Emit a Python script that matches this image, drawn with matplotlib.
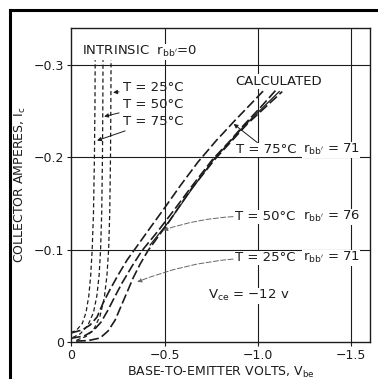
import matplotlib.pyplot as plt
from matplotlib.lines import Line2D

plt.rcParams['font.family'] = ['DejaVu Sans']
plt.rcParams['lines.scale_dashes'] = False
ink = '#1c1c1c'

# intrinsic curves, r_bb' = 0  (volts, amperes)
intr_v_75 = [0.0, -0.03, -0.06, -0.08, -0.095, -0.105, -0.113, -0.12, -0.125, -0.128, -0.129]
intr_i_75 = [-0.010, -0.013, -0.020, -0.032, -0.050, -0.072, -0.10, -0.14, -0.20, -0.26, -0.305]
intr_v_50 = [-0.01, -0.05, -0.09, -0.12, -0.138, -0.150, -0.158, -0.164, -0.168, -0.170, -0.171]
intr_i_50 = [-0.005, -0.009, -0.018, -0.032, -0.050, -0.072, -0.10, -0.14, -0.20, -0.26, -0.305]
intr_v_25 = [-0.03, -0.08, -0.12, -0.155, -0.178, -0.192, -0.201, -0.207, -0.211, -0.213, -0.214]
intr_i_25 = [-0.002, -0.006, -0.013, -0.028, -0.048, -0.072, -0.10, -0.14, -0.20, -0.26, -0.305]

# measured curves with base resistance
meas_v_75 = [0.0, -0.059, -0.102, -0.139, -0.171, -0.209, -0.252, -0.300, -0.354, -0.423,
             -0.493, -0.584, -0.680, -0.777, -0.878, -0.964, -1.044]
meas_i_75 = [-0.0098, -0.013, -0.0184, -0.027, -0.042, -0.057, -0.0726, -0.0888, -0.104, -0.1235,
             -0.143, -0.169, -0.195, -0.218, -0.240, -0.258, -0.275]
meas_v_50 = [0.0, -0.07, -0.118, -0.161, -0.198, -0.236, -0.273, -0.327, -0.380, -0.461,
             -0.552, -0.648, -0.755, -0.852, -0.921, -1.012, -1.098]
meas_i_50 = [-0.004, -0.0065, -0.012, -0.0217, -0.0347, -0.0498, -0.0639, -0.0823, -0.099, -0.119,
             -0.143, -0.169, -0.197, -0.218, -0.234, -0.2535, -0.273]
meas_v_25 = [-0.027, -0.091, -0.155, -0.198, -0.236, -0.268, -0.300, -0.332, -0.370, -0.412,
             -0.520, -0.637, -0.771, -0.943, -1.130]
meas_i_25 = [-0.001, -0.0015, -0.0043, -0.0119, -0.0238, -0.039, -0.054, -0.0693, -0.0845, -0.099,
             -0.129, -0.164, -0.198, -0.236, -0.271]

# calculated curve
calc_v = [-0.423, -0.530, -0.648, -0.761, -0.932, -1.114]
calc_i = [-0.105, -0.132, -0.166, -0.197, -0.235, -0.271]

x_ticks = [0, -0.5, -1.0, -1.5]
x_labels = ['0', '\u22120.5', '\u22121.0', '\u22121.5']
y_ticks = [0, -0.1, -0.2, -0.3]
y_labels = ['0', '\u22120.1', '\u22120.2', '\u22120.3']

fig = plt.figure(figsize=(3.78, 3.79), dpi=100)
ax = fig.add_axes([0.188, 0.0976, 0.791, 0.829])

# grid
for x in x_ticks[1:]:
    ax.axvline(x, color=ink, lw=0.8, zorder=1)
for y in y_ticks[1:]:
    ax.axhline(y, color=ink, lw=0.8, zorder=1)

short = (0, (3, 2))
long_ = (0, (7, 2.5))
for v, i in [(intr_v_75, intr_i_75), (intr_v_50, intr_i_50), (intr_v_25, intr_i_25)]:
    ax.plot(v, i, color=ink, lw=0.9, linestyle=short, zorder=3)
for v, i in [(meas_v_75, meas_i_75), (meas_v_50, meas_i_50), (meas_v_25, meas_i_25)]:
    ax.plot(v, i, color=ink, lw=1.2, linestyle=long_, zorder=3)
ax.plot(calc_v, calc_i, color=ink, lw=0.9, zorder=3)

ax.set_xlim(0, -1.6)
ax.set_ylim(0, -0.34)
ax.set_xticks(x_ticks)
ax.set_xticklabels(x_labels)
ax.set_yticks(y_ticks)
ax.set_yticklabels(y_labels)
ax.tick_params(length=3, width=0.8, pad=2, labelsize=9, colors=ink)
for s in ax.spines.values():
    s.set_linewidth(1.0)
    s.set_color(ink)

ax.set_xlabel("BASE-TO-EMITTER VOLTS, V$_{\\mathrm{be}}$", fontsize=9, labelpad=2, color=ink)
ax.set_ylabel("COLLECTOR AMPERES, I$_{\\mathrm{c}}$", fontsize=9, labelpad=4, color=ink)

box = dict(facecolor='white', edgecolor='none', pad=0.5)
fs = 9.5
ax.text(-0.059, -0.314, "INTRINSIC  r$_{\\mathrm{bb'}}$=0", fontsize=fs, va='center', color=ink, bbox=box, zorder=4)
ax.text(-0.878, -0.282, "CALCULATED", fontsize=fs, va='center', color=ink, bbox=box, zorder=4)

# intrinsic labels
for lab, ty, tip in [("T = 25\u00b0C", -0.275, (-0.225, -0.270)),
                     ("T = 50\u00b0C", -0.257, (-0.177, -0.244)),
                     ("T = 75\u00b0C", -0.239, (-0.139, -0.218))]:
    ax.annotate(lab, xy=tip, xytext=(-0.279, ty), fontsize=fs, va='center', color=ink,
                arrowprops=dict(arrowstyle='-|>', color=ink, lw=0.7, mutation_scale=6,
                                shrinkA=1, shrinkB=0), zorder=4)

# measured labels
ax.annotate("T = 75\u00b0C", xy=(-0.87, -0.236), xytext=(-0.884, -0.208), fontsize=fs,
            va='center', color=ink, bbox=box,
            arrowprops=dict(arrowstyle='-|>', color=ink, lw=0.7, mutation_scale=6, shrinkA=0, shrinkB=0),
            zorder=4)
ax.annotate("T = 50\u00b0C", xy=(-0.493, -0.121), xytext=(-0.878, -0.1354), fontsize=fs,
            va='center', color=ink, bbox=box,
            arrowprops=dict(arrowstyle='-|>', color='#666666', lw=0.7, ls='--', mutation_scale=6,
                            shrinkA=1, shrinkB=0, connectionstyle='arc3,rad=0.1'),
            zorder=4)
ax.annotate("T = 25\u00b0C", xy=(-0.354, -0.065), xytext=(-0.878, -0.091), fontsize=fs,
            va='center', color=ink, bbox=box,
            arrowprops=dict(arrowstyle='-|>', color='#666666', lw=0.7, ls='--', mutation_scale=6,
                            shrinkA=1, shrinkB=0, connectionstyle='arc3,rad=0.1'),
            zorder=4)
for ty, val in [(-0.208, "71"), (-0.1354, "76"), (-0.091, "71")]:
    ax.text(-1.24, ty, "r$_{\\mathrm{bb'}}$ = " + val, fontsize=fs, va='center', color=ink, bbox=box, zorder=4)

ax.text(-0.734, -0.05, "V$_{\\mathrm{ce}}$ = \u221212 v", fontsize=fs, va='center', color=ink, bbox=box, zorder=4)

# scan frame, left and top
fig.add_artist(Line2D([0.026, 0.026], [0.0, 0.974], transform=fig.transFigure, color='black', lw=2.2))
fig.add_artist(Line2D([0.026, 1.0], [0.974, 0.974], transform=fig.transFigure, color='black', lw=2.2))

fig.savefig('out.png', dpi=100, facecolor='white')
